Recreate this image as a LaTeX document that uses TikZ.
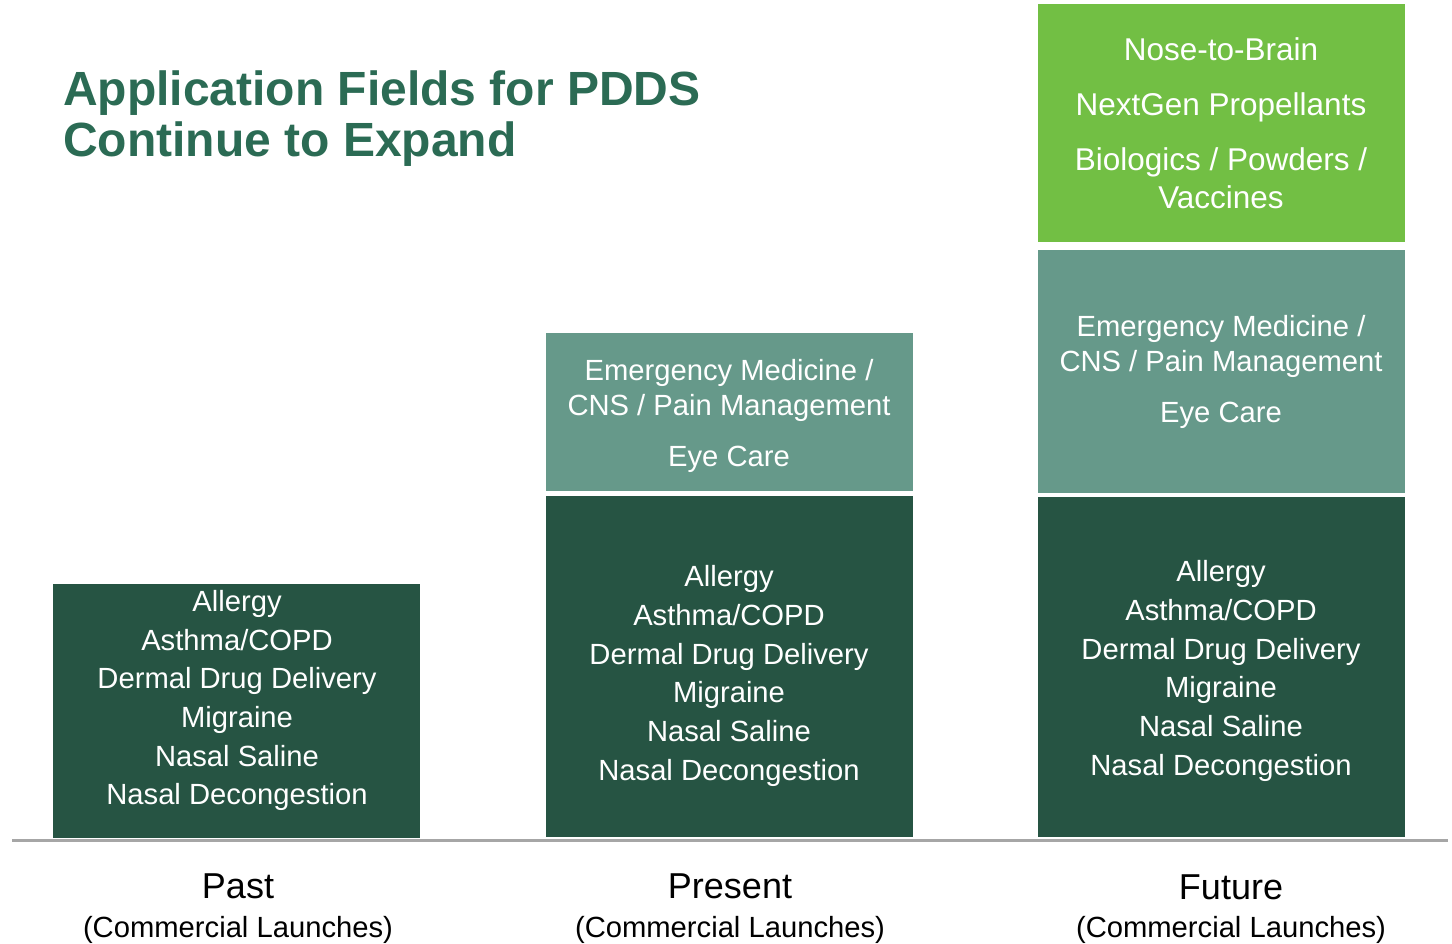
\documentclass[tikz,border=0pt]{standalone}
\usepackage{fontspec}
\setmainfont{Liberation Sans}
\definecolor{darkg}{HTML}{265443}
\definecolor{tealg}{HTML}{66998A}
\definecolor{limeg}{HTML}{72BF44}
\definecolor{titleg}{HTML}{2B6B54}
\definecolor{baseg}{HTML}{A6A6A6}
\begin{document}
\begin{tikzpicture}[x=1pt,y=-1pt,
  bar/.style={draw=none, inner sep=0pt, outer sep=0pt, anchor=north west, minimum width=367pt},
  bt/.style={text=white, align=center, inner sep=0pt, font=\fontsize{29.2}{38.7}\selectfont},
  tt/.style={text=white, align=center, inner sep=0pt, font=\fontsize{29.2}{35}\selectfont},
  gt/.style={text=white, align=center, inner sep=0pt, font=\fontsize{31.5}{38}\selectfont},
  lab/.style={text=black, inner sep=0pt, font=\fontsize{36}{40}\selectfont},
  sub/.style={text=black, inner sep=0pt, font=\fontsize{29.2}{34}\selectfont}]
\useasboundingbox (0,0) rectangle (1452,944);
\fill[white] (0,0) rectangle (1452,944);
% title
\node[anchor=west, align=left, inner sep=0pt, text=titleg,
      font=\fontsize{48}{51}\selectfont\bfseries] (title) at (63,119)
  {Application Fields for PDDS\\Continue to Expand};
% past
\node[bar, fill=darkg, minimum height=254pt] (pastbase) at (53,584) {};
\node[bt] (pasttxt) at (237,700.5) {Allergy\\Asthma/COPD\\Dermal Drug Delivery\\Migraine\\Nasal Saline\\Nasal Decongestion};
% present
\node[bar, fill=tealg, minimum height=158pt] (prestop) at (546,333) {};
\node[bar, fill=darkg, minimum height=341pt] (presbase) at (546,496) {};
\node[tt] (prestoptxt) at (729,416) {Emergency Medicine /\\CNS / Pain Management\\[16pt]Eye Care};
\node[bt] (presbasetxt) at (729,676) {Allergy\\Asthma/COPD\\Dermal Drug Delivery\\Migraine\\Nasal Saline\\Nasal Decongestion};
% future
\node[bar, fill=limeg, minimum height=238pt] (futnew) at (1038,4) {};
\node[bar, fill=tealg, minimum height=243pt] (futtop) at (1038,250) {};
\node[bar, fill=darkg, minimum height=340pt] (futbase) at (1038,497) {};
\node[gt] (futnewtxt) at (1221,123) {Nose-to-Brain\\[17pt]NextGen Propellants\\[17pt]Biologics / Powders /\\Vaccines};
\node[tt] (futtoptxt) at (1221,372) {Emergency Medicine /\\CNS / Pain Management\\[16pt]Eye Care};
\node[bt] (futbasetxt) at (1221,671) {Allergy\\Asthma/COPD\\Dermal Drug Delivery\\Migraine\\Nasal Saline\\Nasal Decongestion};
% baseline
\coordinate (axl) at (12,840);
\coordinate (axr) at (1448,840);
\draw[baseg, line width=3pt] (axl) -- (axr);
% labels
\node[lab] (pastlab) at (238,886) {Past};
\node[sub] (pastsub) at (238,930) {(Commercial Launches)};
\node[lab] (preslab) at (730,886) {Present};
\node[sub] (pressub) at (730,930) {(Commercial Launches)};
\node[lab] (futlab) at (1231,887) {Future};
\node[sub] (futsub) at (1231,930) {(Commercial Launches)};
\end{tikzpicture}
\end{document}
